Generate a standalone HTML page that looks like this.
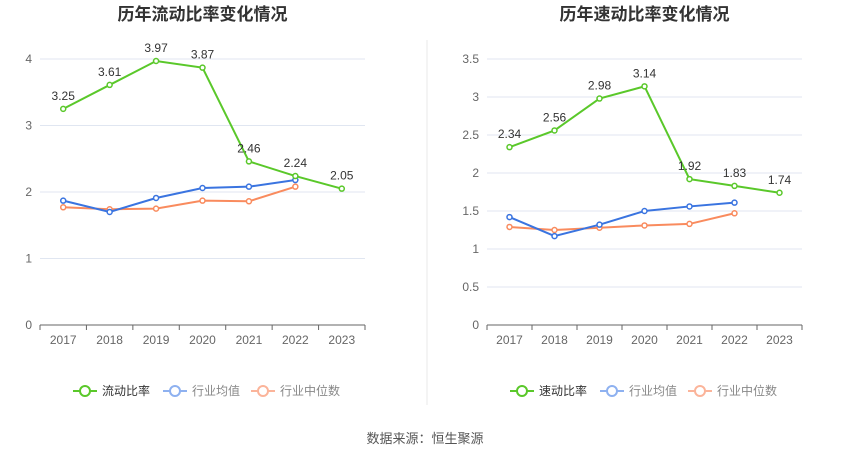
<!DOCTYPE html>
<html><head><meta charset="utf-8"><style>
body{margin:0;background:#fff;width:850px;height:459px;overflow:hidden;font-family:"Liberation Sans","Noto Sans CJK SC",sans-serif}
svg text{font-family:"Liberation Sans","Noto Sans CJK SC",sans-serif}
</style></head><body>
<svg id="s" width="850" height="459">
<line x1="427" y1="40" x2="427" y2="405" stroke="#e8e8e8"/>
<text x="425" y="443" text-anchor="middle" font-size="13" fill="#555">数据来源：恒生聚源</text>
</svg>
<script>
const years=['2017','2018','2019','2020','2021','2022','2023'];
const currentRatio=[3.25,3.61,3.97,3.87,2.46,2.24,2.05];
const currentAvg=[1.87,1.70,1.91,2.06,2.08,2.18];
const currentMed=[1.77,1.74,1.75,1.87,1.86,2.08];
const quickRatio=[2.34,2.56,2.98,3.14,1.92,1.83,1.74];
const quickAvg=[1.42,1.17,1.32,1.50,1.56,1.61];
const quickMed=[1.29,1.25,1.28,1.31,1.33,1.47];
const leftTicks=[0,1,2,3,4];
const rightTicks=[0,0.5,1,1.5,2,2.5,3,3.5];
const NS='http://www.w3.org/2000/svg';
const svg=document.getElementById('s');
function mk(t,a,p){const e=document.createElementNS(NS,t);for(const k in a)e.setAttribute(k,a[k]);(p||svg).appendChild(e);return e;}
function chart(o){
 const g=mk('g',{});
 
 
 const bw=(o.x1-o.x0)/years.length;
 const X=i=>o.x0+bw*(i+0.5);
 const Y=v=>325-(v/o.max)*266;
 const t=mk('text',{x:(o.x0+o.x1)/2,y:20,'text-anchor':'middle','font-size':17,'font-weight':'bold',fill:'#333'},g);
 t.textContent=o.title;
 
 
 o.ticks.forEach(v=>{
  const l=mk('line',{x1:o.x0,x2:o.x1,y1:Y(v),y2:Y(v),stroke:v===0?'#666':'#e0e6f1'},g);
  
  
  const tx=mk('text',{x:o.x0-8,y:Y(v)+4,'text-anchor':'end','font-size':12,fill:'#666'},g);
  tx.textContent=v;
  
  
 });
 years.forEach((y,i)=>{
  mk('line',{x1:o.x0+bw*i,x2:o.x0+bw*i,y1:325,y2:330,stroke:'#666'},g);
  const tx=mk('text',{x:X(i),y:344,'text-anchor':'middle','font-size':12,fill:'#666'},g);
  tx.textContent=y;
  
  
 });
 mk('line',{x1:o.x1,x2:o.x1,y1:325,y2:330,stroke:'#666'},g);
 const series=[[o.med,'#f98b5e','industry-median-line'],[o.avg,'#3a74e0','industry-average-line'],[o.main,'#5ac82a','main-ratio-line']];
 series.forEach(([d,c,n])=>{
  const p=mk('polyline',{points:d.map((v,i)=>X(i)+','+Y(v)).join(' '),fill:'none',stroke:c,'stroke-width':2},g);
  
  
  d.forEach((v,i)=>{
   const c2=mk('circle',{cx:X(i),cy:Y(v),r:2.5,fill:'#fff',stroke:c,'stroke-width':1.5},g);
   
   
  });
 });
 o.main.forEach((v,i)=>{
  const tx=mk('text',{x:X(i),y:Y(v)-9,'text-anchor':'middle','font-size':12,fill:'#333'},g);
  tx.textContent=v.toFixed(2);
  
  
 });
 const lg=[[o.name,'#5ac82a',o.lx],['行业均值','#8eb1f0',o.lx+90],['行业中位数','#fbb49a',o.lx+178]];
 lg.forEach(([n,c,x])=>{
  const e=mk('g',{},g);
  
  
  mk('line',{x1:x,x2:x+24,y1:391,y2:391,stroke:c,'stroke-width':2},e);
  mk('circle',{cx:x+12,cy:391,r:5,fill:'#fff',stroke:c,'stroke-width':2},e);
  const tx=mk('text',{x:x+29,y:395,'font-size':12,fill:n===o.name?'#333':'#888'},e);
  tx.textContent=n;
 });
}
chart({id:'current-ratio-chart',title:'历年流动比率变化情况',name:'流动比率',x0:40,x1:365,max:4,ticks:leftTicks,main:currentRatio,avg:currentAvg,med:currentMed,lx:73});
chart({id:'quick-ratio-chart',title:'历年速动比率变化情况',name:'速动比率',x0:487,x1:802,max:3.5,ticks:rightTicks,main:quickRatio,avg:quickAvg,med:quickMed,lx:510});
</script>
</body></html>
